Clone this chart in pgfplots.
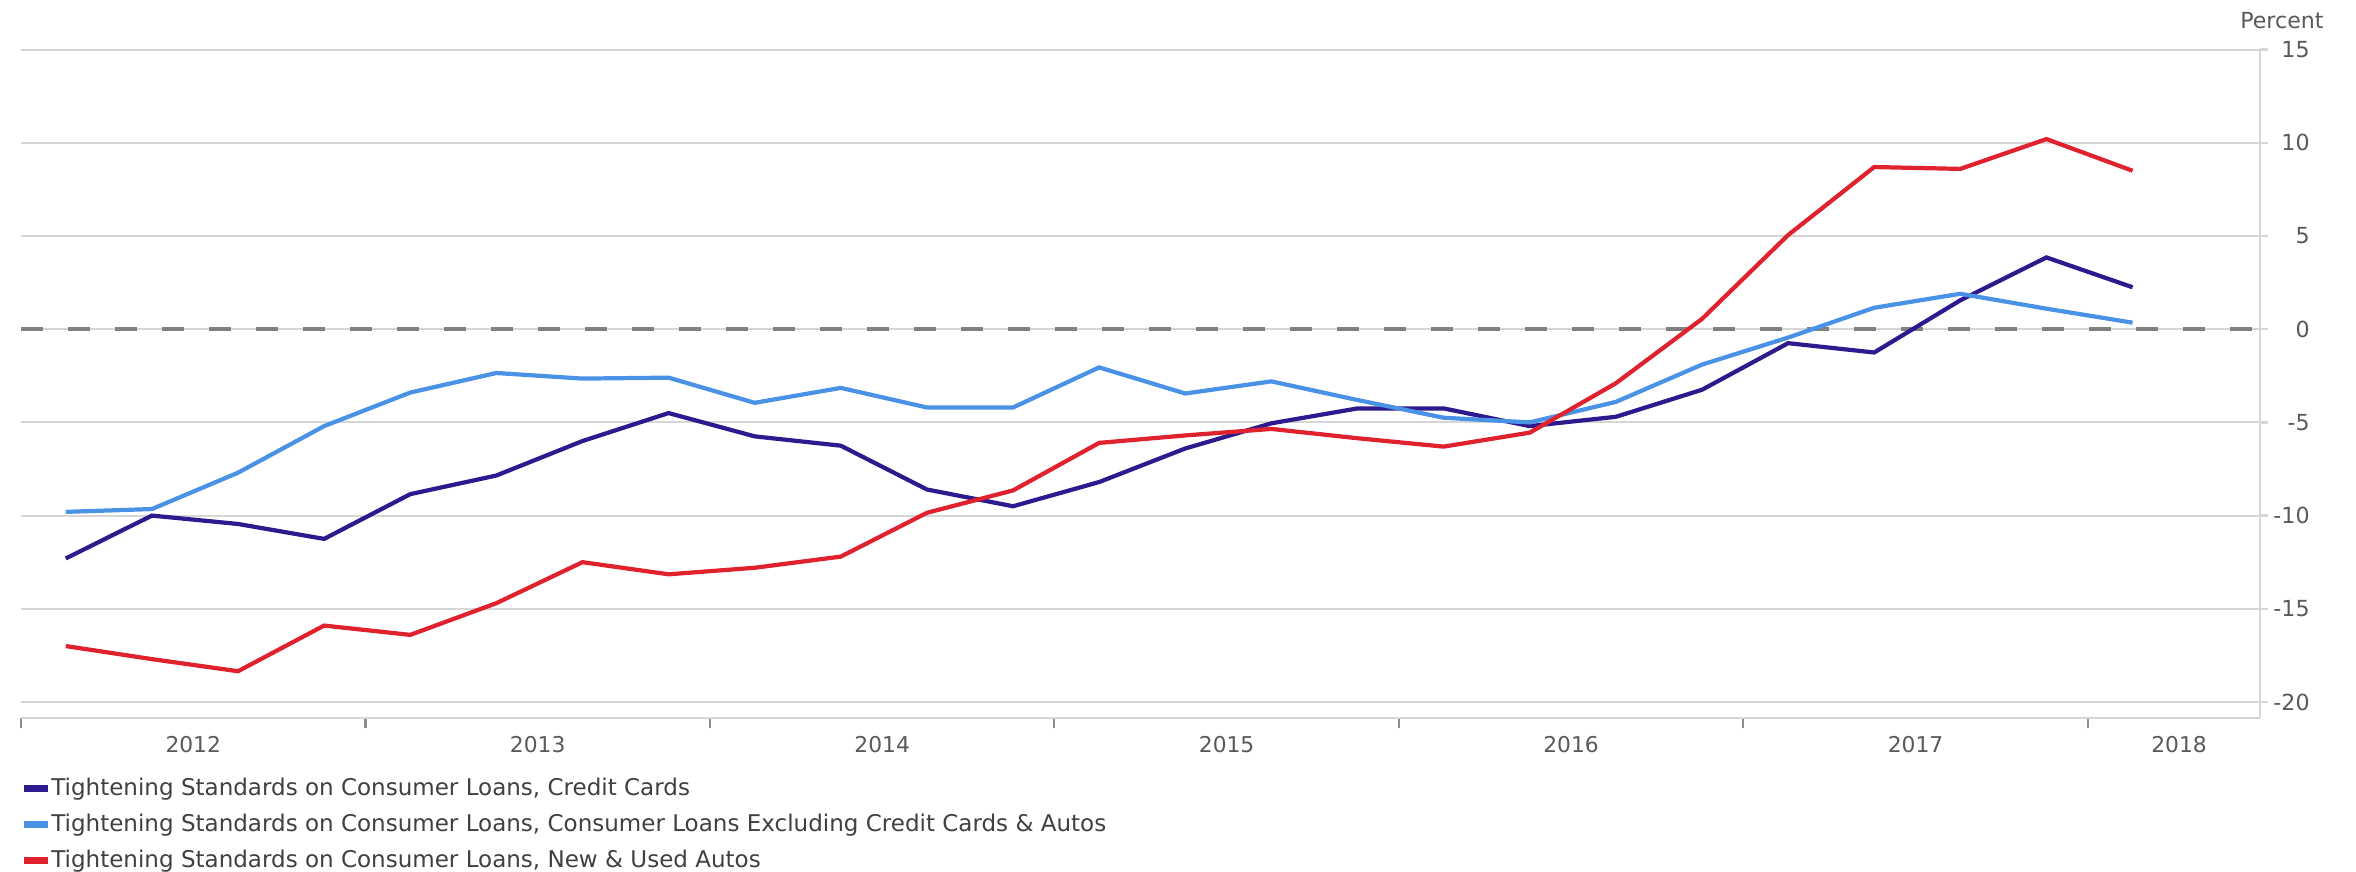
\documentclass[border=0pt]{standalone}
\usepackage{fontspec}
\setmainfont{DejaVu Sans}
\usepackage{pgfplots}
\pgfplotsset{compat=1.18}
\definecolor{cc}{HTML}{2E1A8E}
\definecolor{cx}{HTML}{4A92E6}
\definecolor{ca}{HTML}{E0212E}
\definecolor{gridc}{HTML}{D6D6D6}
\definecolor{txt}{HTML}{595959}
\definecolor{legtxt}{HTML}{404040}
\definecolor{zeroc}{HTML}{808080}

\pgfplotstableread{
idx cc cx ca
0 -12.3 -9.8 -17.0
1 -10.0 -9.65 -17.7
2 -10.45 -7.7 -18.35
3 -11.25 -5.2 -15.9
4 -8.85 -3.4 -16.4
5 -7.85 -2.35 -14.7
6 -6.0 -2.65 -12.5
7 -4.5 -2.6 -13.15
8 -5.75 -3.95 -12.8
9 -6.25 -3.15 -12.2
10 -8.6 -4.2 -9.85
11 -9.5 -4.2 -8.65
12 -8.2 -2.05 -6.1
13 -6.4 -3.45 -5.7
14 -5.05 -2.8 -5.35
15 -4.25 -3.8 -5.85
16 -4.25 -4.75 -6.3
17 -5.2 -5.0 -5.55
18 -4.7 -3.9 -2.9
19 -3.25 -1.9 0.55
20 -0.75 -0.45 5.05
21 -1.25 1.15 8.7
22 1.55 1.9 8.6
23 3.85 1.1 10.2
24 2.25 0.35 8.5
}\datatable

\begin{document}
\begin{tikzpicture}
\useasboundingbox (0,0) rectangle (23.56cm,8.71cm);
\begin{axis}[
  at={(0.21cm,1.53cm)}, anchor=south west,
  scale only axis, width=22.39cm, height=6.684cm,
  xmin=-0.52, xmax=25.48, ymin=-20.86, ymax=15,
  clip=false,
  axis x line*=bottom, axis y line*=right,
  axis line style={gridc, line width=0.7pt, -},
  tick align=outside,
  tick style={gridc, line width=0.7pt},
  major tick length=0.08cm,
  minor tick length=0.1cm,
  xtick={1.48,5.48,9.48,13.48,17.48,21.48,24.54},
  xticklabels={2012,2013,2014,2015,2016,2017,2018},
  major x tick style={draw=none},
  minor x tick style={black!45, line width=0.6pt},
  minor xtick={-0.52,3.48,7.48,11.48,15.48,19.48,23.48},
  ytick={-20,-15,-10,-5,0,5,10,15},
  yticklabels={-20,-15,-10,-5,0,5,10,15},
  ymajorgrids, grid style={gridc, line width=0.6pt},
  xticklabel style={font=\fontsize{6.2}{7}\selectfont, text=txt, yshift=0.02cm},
  yticklabel style={font=\fontsize{6.3}{7}\selectfont, text=txt, anchor=east, xshift=0.54cm},
  legend cell align=left,
  legend image code/.code={\draw[line width=1.8pt] (0cm,0.05mm) -- (0.24cm,0.05mm);},
  legend style={at={(rel axis cs:0,0)}, anchor=north west, yshift=-0.595cm,
    draw=none, fill=none, inner sep=0pt, outer sep=0pt, row sep=0.132cm,
    font=\fontsize{6.55}{7}\selectfont, text=legtxt,
    nodes={inner sep=0pt, text height=5pt, text depth=1.5pt},
    /tikz/every even column/.append style={column sep=0.05cm}},
]
\addplot[zeroc, line width=1pt, dash pattern=on 0.22cm off 0.25cm, forget plot] coordinates {(-0.52,0) (25.48,0)};
\addplot[cc, line width=1.2pt] table[x=idx, y=cc] {\datatable};
\addlegendentry{Tightening Standards on Consumer Loans, Credit Cards}
\addplot[cx, line width=1.2pt] table[x=idx, y=cx] {\datatable};
\addlegendentry{Tightening Standards on Consumer Loans, Consumer Loans Excluding Credit Cards \& Autos}
\addplot[ca, line width=1.2pt] table[x=idx, y=ca] {\datatable};
\addlegendentry{Tightening Standards on Consumer Loans, New \& Used Autos}
\node[anchor=east, xshift=0.76cm, yshift=0.286cm, font=\fontsize{6.3}{7}\selectfont, text=txt] at (rel axis cs:1,1) {Percent};
\end{axis}
\end{tikzpicture}
\end{document}
